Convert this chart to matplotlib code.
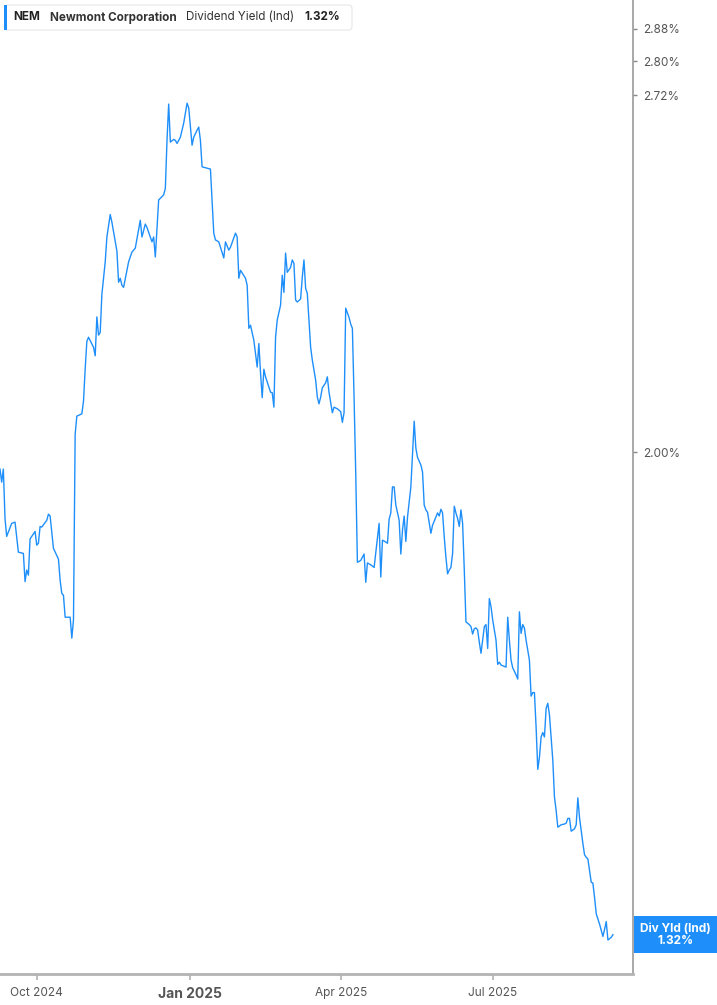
import pandas as pd
import matplotlib.pyplot as plt
from matplotlib.patches import FancyBboxPatch, Rectangle
from matplotlib.ticker import FixedLocator, NullLocator

plt.rcParams['font.family'] = ['Inter', 'DejaVu Sans']

# NEM dividend yield (Ind), %
dates = [
    '2024-09-09', '2024-09-10', '2024-09-11', '2024-09-12', '2024-09-13', '2024-09-16', '2024-09-18',
    '2024-09-20', '2024-09-23', '2024-09-24', '2024-09-25', '2024-09-26', '2024-09-27', '2024-09-30',
    '2024-10-01', '2024-10-02', '2024-10-03', '2024-10-04', '2024-10-07', '2024-10-08', '2024-10-09',
    '2024-10-11', '2024-10-14', '2024-10-15', '2024-10-16', '2024-10-17', '2024-10-18', '2024-10-21',
    '2024-10-22', '2024-10-23', '2024-10-24', '2024-10-25', '2024-10-28', '2024-10-29', '2024-10-30',
    '2024-10-31', '2024-11-01', '2024-11-04', '2024-11-05', '2024-11-06', '2024-11-07', '2024-11-08',
    '2024-11-09', '2024-11-11', '2024-11-12', '2024-11-14', '2024-11-15', '2024-11-18', '2024-11-19',
    '2024-11-20', '2024-11-21', '2024-11-22', '2024-11-25', '2024-11-27', '2024-11-29', '2024-12-02',
    '2024-12-03', '2024-12-05', '2024-12-06', '2024-12-09', '2024-12-10', '2024-12-11', '2024-12-13',
    '2024-12-16', '2024-12-17', '2024-12-18', '2024-12-19', '2024-12-20', '2024-12-22', '2024-12-23',
    '2024-12-24', '2024-12-26', '2024-12-28', '2024-12-30', '2024-12-31', '2025-01-02', '2025-01-03',
    '2025-01-05', '2025-01-06', '2025-01-07', '2025-01-08', '2025-01-11', '2025-01-13', '2025-01-15',
    '2025-01-16', '2025-01-18', '2025-01-21', '2025-01-22', '2025-01-24', '2025-01-25', '2025-01-28',
    '2025-01-29', '2025-01-30', '2025-01-31', '2025-02-03', '2025-02-04', '2025-02-05', '2025-02-06',
    '2025-02-08', '2025-02-10', '2025-02-11', '2025-02-12', '2025-02-13', '2025-02-14', '2025-02-15',
    '2025-02-18', '2025-02-19', '2025-02-20', '2025-02-21', '2025-02-22', '2025-02-24', '2025-02-25',
    '2025-02-26', '2025-02-27', '2025-02-28', '2025-03-02', '2025-03-03', '2025-03-04', '2025-03-05',
    '2025-03-06', '2025-03-08', '2025-03-09', '2025-03-10', '2025-03-11', '2025-03-12', '2025-03-14',
    '2025-03-15', '2025-03-17', '2025-03-18', '2025-03-19', '2025-03-20', '2025-03-21', '2025-03-23',
    '2025-03-24', '2025-03-25', '2025-03-27', '2025-03-28', '2025-03-30', '2025-04-01', '2025-04-02',
    '2025-04-03', '2025-04-04', '2025-04-06', '2025-04-07', '2025-04-08', '2025-04-09', '2025-04-10',
    '2025-04-11', '2025-04-13', '2025-04-15', '2025-04-16', '2025-04-17', '2025-04-19', '2025-04-21',
    '2025-04-24', '2025-04-25', '2025-04-26', '2025-04-28', '2025-04-29', '2025-04-30', '2025-05-01',
    '2025-05-02', '2025-05-03', '2025-05-04', '2025-05-06', '2025-05-07', '2025-05-08', '2025-05-09',
    '2025-05-10', '2025-05-11', '2025-05-13', '2025-05-14', '2025-05-15', '2025-05-16', '2025-05-17',
    '2025-05-19', '2025-05-20', '2025-05-21', '2025-05-22', '2025-05-23', '2025-05-25', '2025-05-26',
    '2025-05-28', '2025-05-29', '2025-05-30', '2025-05-31', '2025-06-01', '2025-06-02', '2025-06-03',
    '2025-06-04', '2025-06-05', '2025-06-06', '2025-06-07', '2025-06-08', '2025-06-09', '2025-06-10',
    '2025-06-11', '2025-06-12', '2025-06-13', '2025-06-14', '2025-06-15', '2025-06-17', '2025-06-18',
    '2025-06-19', '2025-06-20', '2025-06-21', '2025-06-22', '2025-06-23', '2025-06-24', '2025-06-26',
    '2025-06-27', '2025-06-28', '2025-06-29', '2025-06-30', '2025-07-01', '2025-07-03', '2025-07-04',
    '2025-07-05', '2025-07-06', '2025-07-09', '2025-07-10', '2025-07-11', '2025-07-12', '2025-07-13',
    '2025-07-15', '2025-07-16', '2025-07-17', '2025-07-18', '2025-07-19', '2025-07-20', '2025-07-21',
    '2025-07-22', '2025-07-23', '2025-07-24', '2025-07-25', '2025-07-26', '2025-07-27', '2025-07-28',
    '2025-07-29', '2025-07-30', '2025-07-31', '2025-08-01', '2025-08-02', '2025-08-03', '2025-08-04',
    '2025-08-05', '2025-08-06', '2025-08-07', '2025-08-08', '2025-08-09', '2025-08-11', '2025-08-13',
    '2025-08-14', '2025-08-15', '2025-08-16', '2025-08-17', '2025-08-19', '2025-08-20', '2025-08-21',
    '2025-08-22', '2025-08-24', '2025-08-25', '2025-08-26', '2025-08-27', '2025-08-29', '2025-08-30',
    '2025-08-31', '2025-09-01', '2025-09-03', '2025-09-05', '2025-09-06', '2025-09-07', '2025-09-08',
    '2025-09-10', '2025-09-11',
]
yields = [
    1.971, 1.949, 1.971, 1.889, 1.860, 1.881, 1.883,
    1.835, 1.833, 1.789, 1.807, 1.799, 1.856, 1.868,
    1.846, 1.849, 1.876, 1.875, 1.886, 1.896, 1.893,
    1.841, 1.824, 1.791, 1.771, 1.768, 1.735, 1.735,
    1.704, 1.731, 2.031, 2.063, 2.067, 2.090, 2.148,
    2.200, 2.208, 2.189, 2.173, 2.247, 2.212, 2.217,
    2.291, 2.356, 2.407, 2.454, 2.438, 2.378, 2.315,
    2.323, 2.309, 2.305, 2.356, 2.376, 2.384, 2.442,
    2.407, 2.434, 2.427, 2.397, 2.407, 2.366, 2.485,
    2.496, 2.510, 2.616, 2.699, 2.612, 2.618, 2.616,
    2.609, 2.623, 2.655, 2.701, 2.690, 2.605, 2.623,
    2.639, 2.646, 2.616, 2.557, 2.554, 2.552, 2.415,
    2.401, 2.397, 2.364, 2.397, 2.380, 2.386, 2.415,
    2.407, 2.323, 2.339, 2.323, 2.309, 2.225, 2.231,
    2.202, 2.152, 2.196, 2.141, 2.096, 2.148, 2.134,
    2.106, 2.105, 2.079, 2.208, 2.241, 2.270, 2.329,
    2.295, 2.374, 2.335, 2.345, 2.360, 2.353, 2.280,
    2.276, 2.282, 2.325, 2.360, 2.303, 2.293, 2.189,
    2.165, 2.128, 2.097, 2.085, 2.097, 2.114, 2.123,
    2.134, 2.106, 2.069, 2.079, 2.076, 2.071, 2.052,
    2.069, 2.264, 2.246, 2.233, 2.225, 2.097, 1.964,
    1.819, 1.822, 1.832, 1.788, 1.818, 1.815, 1.811,
    1.881, 1.796, 1.854, 1.851, 1.849, 1.888, 1.898,
    1.941, 1.941, 1.911, 1.886, 1.832, 1.870, 1.893,
    1.852, 1.891, 1.941, 1.998, 2.054, 2.007, 1.991,
    1.978, 1.966, 1.911, 1.903, 1.899, 1.865, 1.878,
    1.891, 1.898, 1.893, 1.904, 1.898, 1.859, 1.827,
    1.801, 1.807, 1.811, 1.833, 1.909, 1.898, 1.889,
    1.876, 1.903, 1.881, 1.807, 1.728, 1.724, 1.721,
    1.710, 1.718, 1.719, 1.716, 1.698, 1.682, 1.721,
    1.724, 1.689, 1.763, 1.751, 1.731, 1.701, 1.666,
    1.669, 1.665, 1.662, 1.735, 1.701, 1.672, 1.661,
    1.651, 1.645, 1.743, 1.711, 1.724, 1.719, 1.701,
    1.686, 1.672, 1.621, 1.626, 1.626, 1.578, 1.522,
    1.538, 1.565, 1.571, 1.565, 1.604, 1.611, 1.595,
    1.565, 1.534, 1.486, 1.469, 1.448, 1.451, 1.452,
    1.453, 1.459, 1.459, 1.443, 1.446, 1.451, 1.485,
    1.460, 1.428, 1.414, 1.411, 1.409, 1.381, 1.380,
    1.363, 1.344, 1.332, 1.318, 1.326, 1.335, 1.314,
    1.317, 1.320,
]

y_ticks = [2.00, 2.72, 2.80, 2.88]
x_ticks = ['2024-10-01', '2025-01-01', '2025-04-01', '2025-07-01']
x_tick_labels = ['Oct 2024', 'Jan 2025', 'Apr 2025', 'Jul 2025']

blue = '#1e8ffa'
grey = '#b3b3b3'
txt = '#555555'

dts = pd.to_datetime(dates)

fig = plt.figure(figsize=(7.17, 10.05), dpi=100)
ax = fig.add_axes([0.0, 0.0308, 0.8828, 0.9692])

ax.plot(dts, yields, color=blue, lw=1.0)

ax.set_yscale('log')
ax.set_ylim(1.276, 2.952)
ax.set_xlim(pd.Timestamp('2024-09-09'), pd.Timestamp('2025-09-23'))

ax.yaxis.tick_right()
ax.yaxis.set_major_locator(FixedLocator(y_ticks))
ax.yaxis.set_minor_locator(NullLocator())
ax.set_yticklabels(['%.2f%%' % v for v in y_ticks])
ax.tick_params(axis='y', which='major', direction='out', length=3, width=1,
               color='#888888', labelcolor=txt, labelsize=8.5, pad=4)

ax.set_xticks(pd.to_datetime(x_ticks))
ax.set_xticklabels(x_tick_labels)
ax.tick_params(axis='x', direction='out', length=4, width=1.2, color=grey,
               labelcolor=txt, labelsize=8.5, pad=5)
for lab in ax.get_xticklabels():
    if lab.get_text().startswith('Jan'):
        lab.set_fontweight('bold')
        lab.set_fontsize(10)

for s in ['top', 'left']:
    ax.spines[s].set_visible(False)
ax.spines['right'].set_color('#999999')
ax.spines['right'].set_linewidth(1.2)
ax.spines['bottom'].set_color(grey)
ax.spines['bottom'].set_linewidth(2)

# legend box, top left
W, H = 717.0, 1005.0
box = FancyBboxPatch((5 / W, 1 - 30 / H), 347 / W, 25 / H,
                     boxstyle='round,pad=0,rounding_size=0.004',
                     transform=fig.transFigure, facecolor='white',
                     edgecolor='#e6e6e6', lw=0.8, zorder=5)
fig.patches.append(box)
fig.patches.append(Rectangle((4 / W, 1 - 30 / H), 3 / W, 25 / H, transform=fig.transFigure,
                             facecolor=blue, edgecolor='none', zorder=6))
ly = 1 - 17.5 / H
fs = 8.4
fig.text(13 / W, ly, 'NEM', fontsize=fs, fontweight='bold', color='#222222',
         va='center', zorder=7)
fig.text(50 / W, ly, 'Newmont Corporation', fontsize=fs, fontweight='bold', color='#333333',
         va='center', zorder=7)
fig.text(186 / W, ly, 'Dividend Yield (Ind)', fontsize=fs, color='#333333',
         va='center', zorder=7)
fig.text(304 / W, ly, '%.2f%%' % yields[-1], fontsize=fs, fontweight='bold', color='#222222',
         va='center', zorder=7)

# end-of-series tag on the right axis
ax.text(1.067, yields[-1], 'Div Yld (Ind)\n%.2f%%' % yields[-1],
        transform=ax.get_yaxis_transform(), ha='center', va='center',
        fontsize=8.5, fontweight='bold', color='white', linespacing=1.0,
        bbox=dict(boxstyle='square,pad=0.55', facecolor=blue, edgecolor='none'),
        clip_on=False)

fig.savefig('out.png', dpi=100)
